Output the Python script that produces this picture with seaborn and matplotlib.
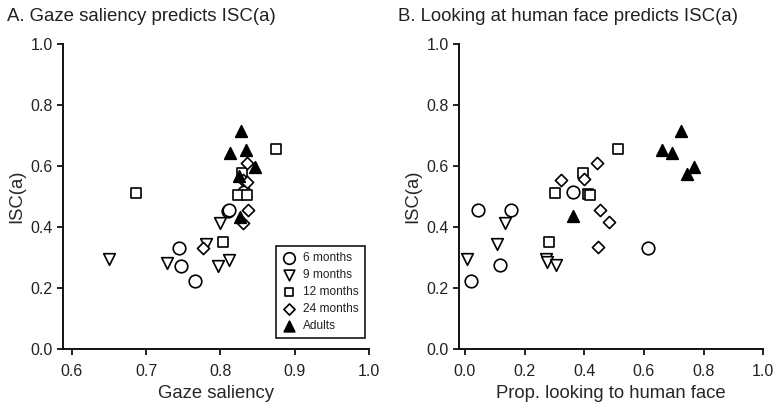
import matplotlib
matplotlib.use("Agg")
import matplotlib.pyplot as plt
import seaborn as sns
import pandas as pd

# ---- data ----
groups = ["6 months", "9 months", "12 months", "24 months", "Adults"]

# Panel A: gaze saliency vs ISC(a)
a_6m_x = [0.7445, 0.7464, 0.7657, 0.8105, 0.812, 0.832]
a_6m_y = [0.330, 0.273, 0.224, 0.452, 0.455, 0.515]
a_9m_x = [0.650, 0.7284, 0.797, 0.812, 0.800, 0.780]
a_9m_y = [0.294, 0.281, 0.272, 0.292, 0.414, 0.343]
a_12m_x = [0.6862, 0.803, 0.8231, 0.8353, 0.8747, 0.8294]
a_12m_y = [0.510, 0.350, 0.506, 0.506, 0.657, 0.576]
a_24m_x = [0.7768, 0.8353, 0.830, 0.8353, 0.8375, 0.8307]
a_24m_y = [0.330, 0.611, 0.554, 0.546, 0.456, 0.414]
a_ad_x = [0.8276, 0.8128, 0.834, 0.8465, 0.825, 0.826]
a_ad_y = [0.715, 0.642, 0.652, 0.596, 0.568, 0.434]

# Panel B: proportion looking to human face vs ISC(a)
b_6m_x = [0.045, 0.117, 0.020, 0.154, 0.363, 0.615]
b_6m_y = [0.456, 0.274, 0.224, 0.455, 0.514, 0.330]
b_9m_x = [0.006, 0.106, 0.134, 0.272, 0.276, 0.307]
b_9m_y = [0.294, 0.343, 0.414, 0.294, 0.285, 0.275]
b_12m_x = [0.282, 0.302, 0.397, 0.412, 0.420, 0.512]
b_12m_y = [0.350, 0.510, 0.578, 0.508, 0.505, 0.657]
b_24m_x = [0.321, 0.399, 0.444, 0.453, 0.484, 0.447]
b_24m_y = [0.554, 0.556, 0.609, 0.456, 0.415, 0.333]
b_ad_x = [0.363, 0.661, 0.693, 0.723, 0.745, 0.768]
b_ad_y = [0.437, 0.652, 0.644, 0.715, 0.573, 0.596]

x_ticks_a = [0.6, 0.7, 0.8, 0.9, 1.0]
x_ticks_b = [0.0, 0.2, 0.4, 0.6, 0.8, 1.0]
y_ticks = [0.0, 0.2, 0.4, 0.6, 0.8, 1.0]

titles = ["A. Gaze saliency predicts ISC(a)", "B. Looking at human face predicts ISC(a)"]
xlabels = ["Gaze saliency", "Prop. looking to human face"]
ylabel = "ISC(a)"

# ---- style ----
sns.set_style("ticks")
plt.rcParams["font.family"] = ["Liberation Sans", "DejaVu Sans"]
plt.rcParams["axes.linewidth"] = 1.4
plt.rcParams["xtick.major.width"] = 1.4
plt.rcParams["ytick.major.width"] = 1.4
plt.rcParams["xtick.major.size"] = 4.5
plt.rcParams["ytick.major.size"] = 4.5
plt.rcParams["xtick.color"] = "#222222"
plt.rcParams["ytick.color"] = "#222222"
plt.rcParams["axes.edgecolor"] = "#111111"
plt.rcParams["text.color"] = "#222222"

marker_style = {
    "6 months": dict(marker="o", s=82, facecolor="white"),
    "9 months": dict(marker="v", s=70, facecolor="white"),
    "12 months": dict(marker="s", s=48, facecolor="white"),
    "24 months": dict(marker="D", s=38, facecolor="white"),
    "Adults": dict(marker="^", s=70, facecolor="black"),
}

def make_df(xs, ys):
    rows = []
    for g, x, y in zip(groups, xs, ys):
        for xi, yi in zip(x, y):
            rows.append({"group": g, "x": xi, "y": yi})
    return pd.DataFrame(rows)

df_a = make_df([a_6m_x, a_9m_x, a_12m_x, a_24m_x, a_ad_x],
               [a_6m_y, a_9m_y, a_12m_y, a_24m_y, a_ad_y])
df_b = make_df([b_6m_x, b_9m_x, b_12m_x, b_24m_x, b_ad_x],
               [b_6m_y, b_9m_y, b_12m_y, b_24m_y, b_ad_y])

fig = plt.figure(figsize=(7.81, 4.08), dpi=100)
ax_a = fig.add_axes([0.0807, 0.1446, 0.3918, 0.7475])
ax_b = fig.add_axes([0.588, 0.1446, 0.3892, 0.7475])

for ax, df, xt, xlim, xl in [
    (ax_a, df_a, x_ticks_a, (0.588, 1.0), xlabels[0]),
    (ax_b, df_b, x_ticks_b, (-0.019, 1.0), xlabels[1]),
]:
    for g in groups:
        st = marker_style[g]
        sub = df[df["group"] == g]
        sns.scatterplot(data=sub, x="x", y="y", ax=ax, marker=st["marker"],
                        s=st["s"], facecolor=st["facecolor"], edgecolor="black",
                        linewidth=1.2, label=g, zorder=3, clip_on=False)
    ax.set_xlim(*xlim)
    ax.set_ylim(0, 1.0)
    ax.set_xticks(xt)
    ax.set_yticks(y_ticks)
    ax.set_xticklabels([f"{v:.1f}" for v in xt], fontsize=11.5)
    ax.set_yticklabels([f"{v:.1f}" for v in y_ticks], fontsize=11.5)
    ax.tick_params(axis="x", pad=6)
    ax.tick_params(axis="y", pad=3)
    ax.set_xlabel(xl, fontsize=13.3, labelpad=4.5)
    ax.set_ylabel(ylabel, fontsize=13.3, labelpad=3.5)
    for side in ["top", "right"]:
        ax.spines[side].set_visible(False)
    ax.grid(False)

leg = ax_a.legend(loc="lower right", bbox_to_anchor=(0.987, 0.036),
                  borderaxespad=0, fontsize=8.6, markerscale=0.92,
                  handlelength=1.2, handletextpad=0.6, labelspacing=0.42,
                  borderpad=0.5, fancybox=False, framealpha=1,
                  edgecolor="black")
leg.get_frame().set_linewidth(1.1)
lg_b = ax_b.get_legend()
if lg_b is not None:
    lg_b.remove()

fig.text(7 / 781, 1 - 21 / 408, titles[0], fontsize=13.4, ha="left", va="baseline")
fig.text(398 / 781, 1 - 21 / 408, titles[1], fontsize=13.4, ha="left", va="baseline")

fig.savefig("out.png", dpi=100)
